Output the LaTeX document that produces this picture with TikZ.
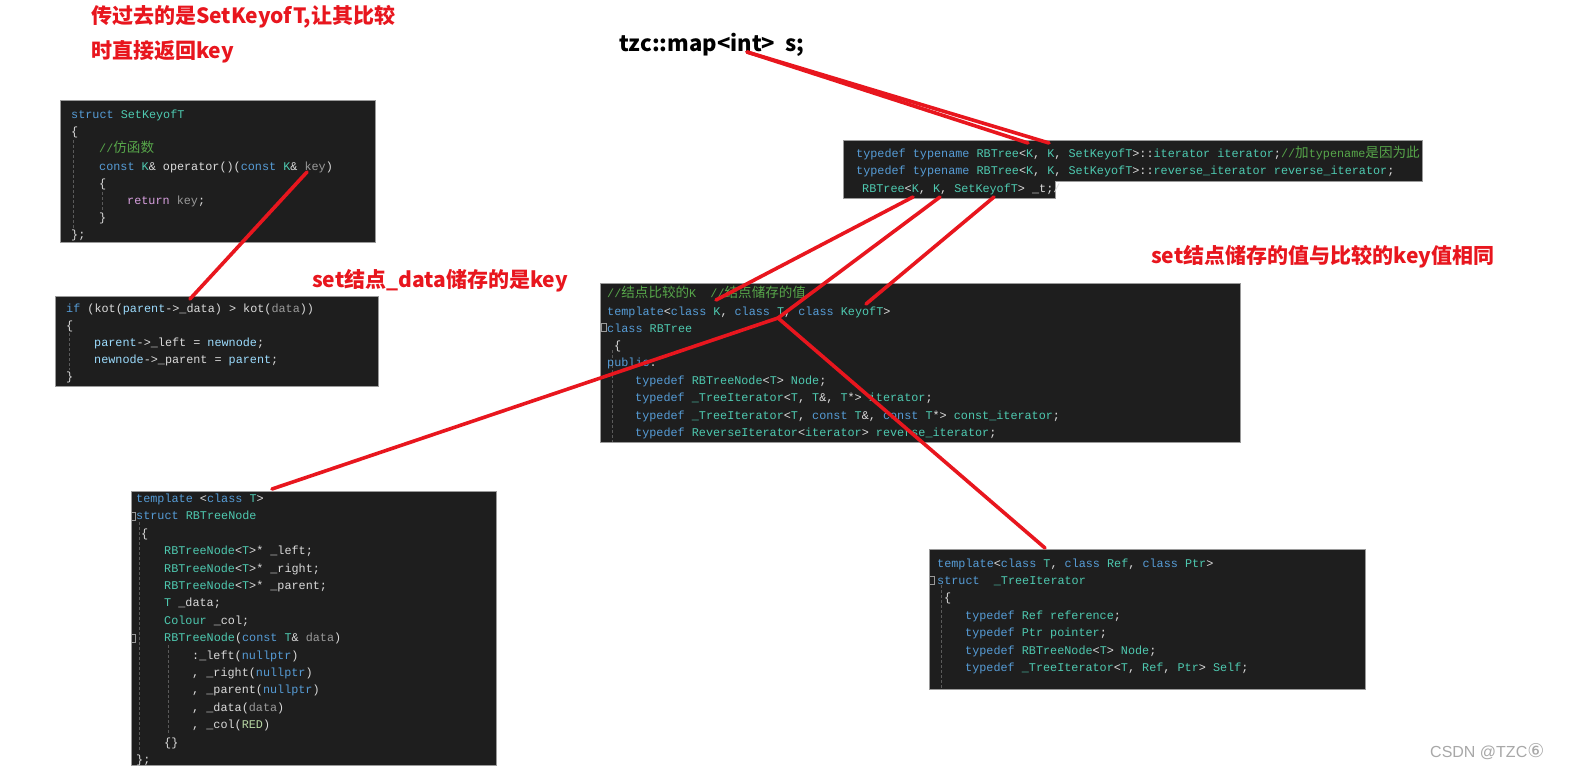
\documentclass[tikz,border=0pt]{standalone}
\usepackage{fontspec}
\setmainfont{Liberation Sans}
\newfontfamily\codefont{Liberation Mono}
\newfontfamily\cjkcode[Scale=1.15]{Noto Sans CJK SC}
\newfontfamily\notefont{Noto Sans CJK SC}
\newfontfamily\markfont{DejaVu Sans}

\definecolor{codebg}{HTML}{1E1E1E}
\definecolor{boxgray}{HTML}{9A9A9A}
\definecolor{codetext}{HTML}{DCDCDC}
\definecolor{kwblue}{HTML}{569CD6}
\definecolor{tyteal}{HTML}{4EC9B0}
\definecolor{comgreen}{HTML}{57A64A}
\definecolor{pargray}{HTML}{9A9A9A}
\definecolor{memlight}{HTML}{DADADA}
\definecolor{locblue}{HTML}{9CDCFE}
\definecolor{retpurple}{HTML}{D8A0DF}
\definecolor{enumgreen}{HTML}{B8D7A3}
\definecolor{guidegray}{HTML}{5A5A5A}
\definecolor{markred}{HTML}{E8161E}
\definecolor{wmgray}{HTML}{A8A8A8}

% token colours
\newcommand\ckw[1]{\textcolor{kwblue}{#1}}
\newcommand\cty[1]{\textcolor{tyteal}{#1}}
\newcommand\ccom[1]{\textcolor{comgreen}{#1}}
\newcommand\cpar[1]{\textcolor{pargray}{#1}}
\newcommand\cmem[1]{\textcolor{memlight}{#1}}
\newcommand\cloc[1]{\textcolor{locblue}{#1}}
\newcommand\cret[1]{\textcolor{retpurple}{#1}}
\newcommand\cenum[1]{\textcolor{enumgreen}{#1}}

\tikzset{
  codebox/.style={draw=boxgray, fill=codebg, line width=0.8pt},
  codeline/.style={anchor=base west, inner sep=0pt, text=codetext,
    font=\codefont\fontsize{11.8}{14}\selectfont},
  guide/.style={draw=guidegray, densely dashed, line width=0.6pt},
  fold/.style={draw=boxgray, line width=0.5pt},
  redline/.style={draw=markred, line width=3.6pt, line cap=round},
  note/.style={anchor=west, inner sep=0pt, text=markred,
    font=\notefont\bfseries\fontsize{21}{24}\selectfont}
}

\begin{document}
\begin{tikzpicture}[x=1pt,y=-1pt]
\fill[white] (0,0) rectangle (1571,774);
\useasboundingbox (0,0) rectangle (1571,774);

% code boxes
\draw[codebox] (60,100) rectangle (375,242);
\draw[codebox] (55,296) rectangle (378,386);
\draw[codebox] (843,140) -- (1422,140) -- (1422,181) -- (1055,181) -- (1055,198) -- (843,198) -- cycle;
\draw[codebox] (600,283) rectangle (1240,442);
\draw[codebox] (131,491) rectangle (496,765);
\draw[codebox] (929,549) rectangle (1365,689);

% indent guides and fold marks
\draw[guide] (73,140) -- (73,229);
\draw[guide] (102,192) -- (102,212);
\draw[guide] (69,328) -- (69,370);
\draw[guide] (612,350) -- (612,442);
\draw[guide] (139,522) -- (139,750);
\draw[guide] (168,645) -- (168,735);
\draw[guide] (941,585) -- (941,689);
\draw[fold] (601,323) rectangle (606,331);
\draw[fold] (131,512) rectangle (135,520);
\draw[fold] (131,634) rectangle (135,642);
\draw[fold] (929,576) rectangle (934,584);

% struct SetKeyofT
\node[codeline] (sk1) at (71,118) {\ckw{struct} \cty{SetKeyofT}};
\node[codeline] (sk2) at (71,135) {\{};
\node[codeline] (sk3) at (99,152) {\ccom{//{\cjkcode 仿函数}}};
\node[codeline] (sk4) at (99,170) {\ckw{const} \cty{K}\& operator()(\ckw{const} \cty{K}\& \cpar{key})};
\node[codeline] (sk5) at (99,187) {\{};
\node[codeline] (sk6) at (127,204) {\cret{return} \cpar{key};};
\node[codeline] (sk7) at (99,221) {\}};
\node[codeline] (sk8) at (71,238) {\};};

% insert compare
\node[codeline] (in1) at (66,312) {\ckw{if} (kot(\cloc{parent}->\cmem{\_data}) > kot(\cpar{data}))};
\node[codeline] (in2) at (66,329) {\{};
\node[codeline] (in3) at (94,346) {\cloc{parent}->\cmem{\_left} = \cloc{newnode};};
\node[codeline] (in4) at (94,363) {\cloc{newnode}->\cmem{\_parent} = \cloc{parent};};
\node[codeline] (in5) at (66,380) {\}};

% set typedefs
\node[codeline] (st1) at (856,157) {\ckw{typedef} \ckw{typename} \cty{RBTree}<\cty{K}, \cty{K}, \cty{SetKeyofT}>::\cty{iterator} \cty{iterator};\ccom{//{\cjkcode 加}typename{\cjkcode 是因为此}}};
\node[codeline] (st2) at (856,174) {\ckw{typedef} \ckw{typename} \cty{RBTree}<\cty{K}, \cty{K}, \cty{SetKeyofT}>::\cty{reverse\_iterator} \cty{reverse\_iterator};};
\node[codeline] (st3) at (862,192) {\cty{RBTree}<\cty{K}, \cty{K}, \cty{SetKeyofT}> \cmem{\_t};/};

% class RBTree
\node[codeline] (rb1) at (607,297) {\ccom{//{\cjkcode 结点比较的}K\ \ //{\cjkcode 结点储存的值}}};
\node[codeline] (rb2) at (607,315) {\ckw{template}<\ckw{class} \cty{K}, \ckw{class} \cty{T}, \ckw{class} \cty{KeyofT}>};
\node[codeline] (rb3) at (607,332) {\ckw{class} \cty{RBTree}};
\node[codeline] (rb4) at (614,349) {\{};
\node[codeline] (rb5) at (607,366) {\ckw{public}:};
\node[codeline] (rb6) at (635,384) {\ckw{typedef} \cty{RBTreeNode}<\cty{T}> \cty{Node};};
\node[codeline] (rb7) at (635,401) {\ckw{typedef} \cty{\_TreeIterator}<\cty{T}, \cty{T}\&, \cty{T}*> \cty{iterator};};
\node[codeline] (rb8) at (635,419) {\ckw{typedef} \cty{\_TreeIterator}<\cty{T}, \ckw{const} \cty{T}\&, \ckw{const} \cty{T}*> \cty{const\_iterator};};
\node[codeline] (rb9) at (635,436) {\ckw{typedef} \cty{ReverseIterator}<\cty{iterator}> \cty{reverse\_iterator};};

% struct RBTreeNode
\node[codeline] (nd1) at (136,502) {\ckw{template} <\ckw{class} \cty{T}>};
\node[codeline] (nd2) at (136,519) {\ckw{struct} \cty{RBTreeNode}};
\node[codeline] (nd3) at (141,537) {\{};
\node[codeline] (nd4) at (164,554) {\cty{RBTreeNode}<\cty{T}>* \cmem{\_left};};
\node[codeline] (nd5) at (164,572) {\cty{RBTreeNode}<\cty{T}>* \cmem{\_right};};
\node[codeline] (nd6) at (164,589) {\cty{RBTreeNode}<\cty{T}>* \cmem{\_parent};};
\node[codeline] (nd7) at (164,606) {\cty{T} \cmem{\_data};};
\node[codeline] (nd8) at (164,624) {\cty{Colour} \cmem{\_col};};
\node[codeline] (nd9) at (164,641) {\cty{RBTreeNode}(\ckw{const} \cty{T}\& \cpar{data})};
\node[codeline] (nd10) at (192,659) {:\cmem{\_left}(\ckw{nullptr})};
\node[codeline] (nd11) at (192,676) {, \cmem{\_right}(\ckw{nullptr})};
\node[codeline] (nd12) at (192,693) {, \cmem{\_parent}(\ckw{nullptr})};
\node[codeline] (nd13) at (192,711) {, \cmem{\_data}(\cpar{data})};
\node[codeline] (nd14) at (192,728) {, \cmem{\_col}(\cenum{RED})};
\node[codeline] (nd15) at (164,746) {\{\}};
\node[codeline] (nd16) at (136,763) {\};};

% struct _TreeIterator
\node[codeline] (it1) at (937,567) {\ckw{template}<\ckw{class} \cty{T}, \ckw{class} \cty{Ref}, \ckw{class} \cty{Ptr}>};
\node[codeline] (it2) at (937,584) {\ckw{struct}\ \ \cty{\_TreeIterator}};
\node[codeline] (it3) at (944,601) {\{};
\node[codeline] (it4) at (965,619) {\ckw{typedef} \cty{Ref} \cty{reference};};
\node[codeline] (it5) at (965,636) {\ckw{typedef} \cty{Ptr} \cty{pointer};};
\node[codeline] (it6) at (965,654) {\ckw{typedef} \cty{RBTreeNode}<\cty{T}> \cty{Node};};
\node[codeline] (it7) at (965,671) {\ckw{typedef} \cty{\_TreeIterator}<\cty{T}, \cty{Ref}, \cty{Ptr}> \cty{Self};};

% notes
\node[note] (nt1) at (91,17) {传过去的是SetKeyofT,让其比较};
\node[note] (nt2) at (91,52) {时直接返回key};
\node[note, text=black, font=\notefont\bfseries\fontsize{22}{24}\selectfont] (mapdecl) at (619,45) {tzc::map<int>\ \ s;};
\node[note] (nt3) at (312,281) {set结点\_data储存的是key};
\node[note] (nt4) at (1151,257) {set结点储存的值与比较的key值相同};
\node[anchor=west, inner sep=0pt, text=wmgray, font=\fontsize{16}{18}\selectfont] (wm) at (1430,752) {CSDN @TZC{\markfont\fontsize{19}{18}\selectfont ⑥}};

% red marks
\coordinate (keyarg) at (307,172);
\coordinate (kotdata) at (190,299);
\coordinate (mapint) at (747,52);
\coordinate (stK1) at (1028,143);
\coordinate (stK2) at (1049,143);
\coordinate (tK1) at (913,197);
\coordinate (tK2) at (940,197);
\coordinate (tSet) at (994,197);
\coordinate (rbK) at (716,300);
\coordinate (rbT) at (778,318);
\coordinate (rbKey) at (866,304);
\coordinate (ndTop) at (272,489);
\coordinate (itTop) at (1045,548);

\draw[redline] (keyarg) -- (kotdata);
\draw[redline] (mapint) -- (stK1);
\draw[redline] (mapint) -- (stK2);
\draw[redline] (tK1) -- (rbK);
\draw[redline] (tK2) -- (rbT);
\draw[redline] (tSet) -- (rbKey);
\draw[redline] (rbT) -- (ndTop);
\draw[redline] (rbT) -- (itTop);
\end{tikzpicture}
\end{document}
